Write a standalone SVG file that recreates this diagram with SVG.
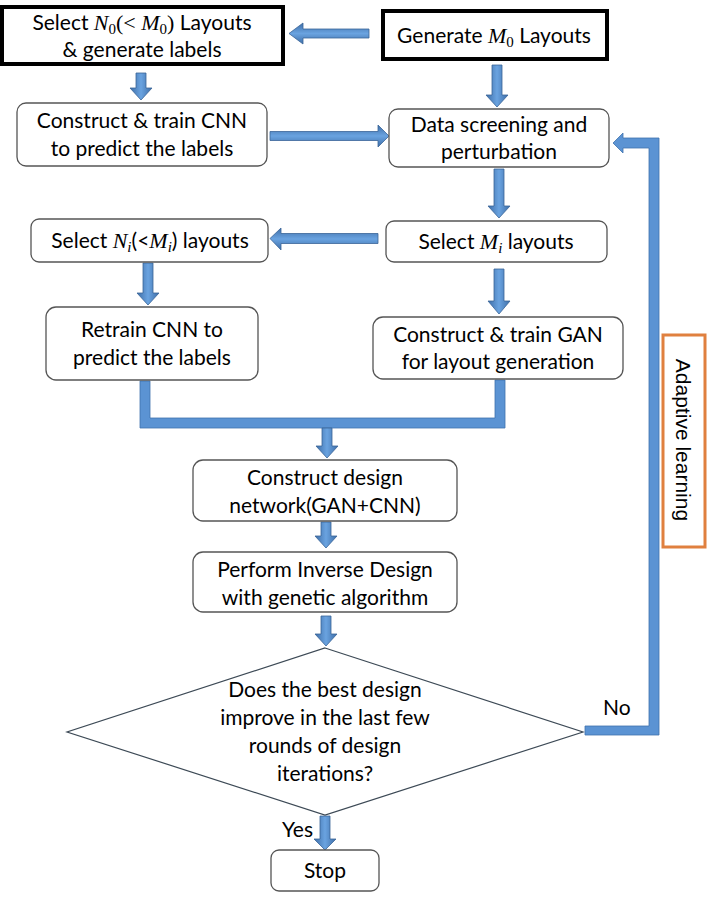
<svg xmlns="http://www.w3.org/2000/svg" width="707" height="899" viewBox="0 0 707 899">
<defs>
<linearGradient id="gv" x1="0" y1="0" x2="1" y2="0">
<stop offset="0" stop-color="#3e6ea8"/><stop offset="0.5" stop-color="#6aa3e0"/><stop offset="1" stop-color="#3e6ea8"/>
</linearGradient>
<linearGradient id="gh" x1="0" y1="0" x2="0" y2="1">
<stop offset="0" stop-color="#3e6ea8"/><stop offset="0.5" stop-color="#6aa3e0"/><stop offset="1" stop-color="#3e6ea8"/>
</linearGradient>
<style>
.box{fill:#fff;stroke:#555;stroke-width:1.3}
.thick{fill:#fff;stroke:#000;stroke-width:4}
.t{font-family:Lato,"Liberation Sans",sans-serif;font-size:21px;fill:#000;text-anchor:middle}
.m{font-family:"Liberation Serif",serif;font-style:italic;font-size:22px}
.s{font-family:"Liberation Serif",serif;font-size:15px}
.av{fill:url(#gv);stroke:#3a6598;stroke-width:0.8}
.ah{fill:url(#gh);stroke:#3a6598;stroke-width:0.8}
.loop{fill:#5b93d3;stroke:#3f72ad;stroke-width:0.8}
</style>
</defs>
<g id="connectors">
<polygon class="ah" points="369,29 303,29 303,23 289,33.5 303,44 303,38 369,38"/>
<polygon class="av" points="136,73 146,73 146,88 152,88 141,100 130,88 136,88"/>
<polygon class="ah" points="270,131.5 378,131.5 378,125 389,136 378,147 378,140.5 270,140.5"/>
<polygon class="av" points="492,65 502,65 502,95 508,95 497,107 486,95 492,95"/>
<polygon class="av" points="494,169 504,169 504,206 510,206 499,218 488,206 494,206"/>
<polygon class="ah" points="378,233.5 281,233.5 281,228 270,238.5 281,250 281,243.5 378,243.5"/>
<polygon class="av" points="143,263 153,263 153,293 159,293 148,305 137,293 143,293"/>
<polygon class="av" points="494,269 504,269 504,301 510,301 499,314 488,301 494,301"/>
<polygon class="loop" points="140,381 150,381 150,418 495,418 495,380 505,380 505,428 140,428"/>
<polygon class="av" points="322,428 332,428 332,446 338,446 327,458 316,446 322,446"/>
<polygon class="av" points="321,522 331,522 331,536 337,536 326,548 315,536 321,536"/>
<polygon class="av" points="321,616 331,616 331,634 337,634 326,646 315,634 321,634"/>
<polygon class="av" points="320,816 330,816 330,839 336,839 325,850 314,839 320,839"/>
<polygon class="loop" points="585,726 649,726 649,148 623,148 623,153 613,143 623,133 623,138 659,138 659,735 585,735"/>
<text class="t" x="603" y="715" style="text-anchor:start">No</text>
<text class="t" x="313" y="837" style="text-anchor:end">Yes</text>
</g>
<g id="n_select_n0">
<rect class="thick" x="2" y="7" width="281" height="57"/>
<text class="t" x="142" y="30">Select <tspan class="m">N</tspan><tspan class="s" dy="4">0</tspan><tspan class="m" style="font-style:normal" dy="-4">(&lt; </tspan><tspan class="m">M</tspan><tspan class="s" dy="4">0</tspan><tspan class="m" style="font-style:normal" dy="-4">)</tspan> Layouts</text>
<text class="t" x="142" y="57">&amp; generate labels</text>
</g>
<g id="n_generate">
<rect class="thick" x="383" y="11" width="224" height="48"/>
<text class="t" x="494" y="43">Generate <tspan class="m">M</tspan><tspan class="s" dy="4">0</tspan><tspan dy="-4"> Layouts</tspan></text>
</g>
<g id="n_cnn">
<rect class="box" x="17" y="103" width="250" height="63" rx="9"/>
<text class="t" x="142" y="128">Construct &amp; train CNN</text>
<text class="t" x="142" y="156">to predict the labels</text>
</g>
<g id="n_screen">
<rect class="box" x="389" y="109" width="220" height="58" rx="9"/>
<text class="t" x="499" y="132">Data screening and</text>
<text class="t" x="499" y="159">perturbation</text>
</g>
<g id="n_select_mi">
<rect class="box" x="386" y="221" width="221" height="41" rx="8"/>
<text class="t" x="496" y="249">Select <tspan class="m">M</tspan><tspan class="s" style="font-style:italic" dy="4">i</tspan><tspan dy="-4"> layouts</tspan></text>
</g>
<g id="n_select_ni">
<rect class="box" x="31" y="219" width="237" height="43" rx="8"/>
<text class="t" x="150" y="248">Select <tspan class="m">N</tspan><tspan class="s" style="font-style:italic" dy="4">i</tspan><tspan dy="-4">(&lt;</tspan><tspan class="m">M</tspan><tspan class="s" style="font-style:italic" dy="4">i</tspan><tspan dy="-4">) layouts</tspan></text>
</g>
<g id="n_retrain">
<rect class="box" x="46" y="307" width="212" height="73" rx="10"/>
<text class="t" x="152" y="337">Retrain CNN to</text>
<text class="t" x="152" y="365">predict the labels</text>
</g>
<g id="n_gan">
<rect class="box" x="373" y="317" width="250" height="62" rx="10"/>
<text class="t" x="498" y="342">Construct &amp; train GAN</text>
<text class="t" x="498" y="369">for layout generation</text>
</g>
<g id="n_design_net">
<rect class="box" x="193" y="460" width="264" height="61" rx="10"/>
<text class="t" x="325" y="485">Construct design</text>
<text class="t" x="325" y="513">network(GAN+CNN)</text>
</g>
<g id="n_inverse">
<rect class="box" x="193" y="552" width="264" height="60" rx="10"/>
<text class="t" x="325" y="577">Perform Inverse Design</text>
<text class="t" x="325" y="605">with genetic algorithm</text>
</g>
<g id="n_decision">
<polygon points="325,648 583,732 325,815 67,732" fill="#fff" stroke="#3d4a56" stroke-width="1.2"/>
<text class="t" x="325" y="697">Does the best design</text>
<text class="t" x="325" y="725">improve in the last few</text>
<text class="t" x="325" y="753">rounds of design</text>
<text class="t" x="325" y="781">iterations?</text>
</g>
<g id="n_stop">
<rect class="box" x="271" y="850" width="108" height="41" rx="8"/>
<text class="t" x="325" y="878">Stop</text>
</g>
<g id="n_adaptive">
<rect x="663" y="335" width="42" height="212" fill="#fff" stroke="#e0803f" stroke-width="3"/>
<text transform="translate(683,440) rotate(90)" x="0" y="7" style="font-family:'Liberation Sans',Arial,sans-serif;font-size:21px;text-anchor:middle">Adaptive learning</text>
</g>
</svg>
